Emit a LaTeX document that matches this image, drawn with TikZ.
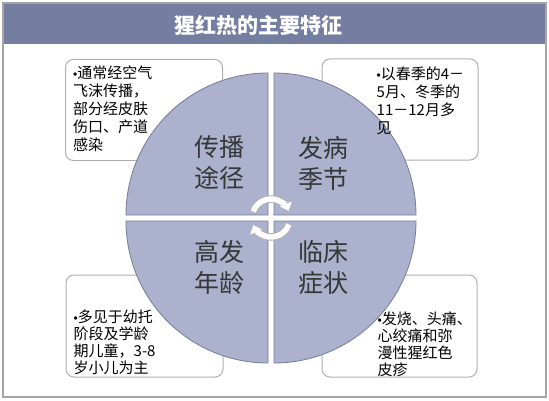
\documentclass[tikz,border=0pt]{standalone}
\usepackage{fontspec}
\setmainfont{Noto Sans CJK SC}
\newfontfamily\bulletfont{Liberation Sans}
\newcommand\bul{{\bulletfont\fontsize{12}{12}\selectfont •}}
\usetikzlibrary{arrows.meta,calc,positioning}

\definecolor{barblue}{RGB}{116,126,161}
\definecolor{quadfill}{RGB}{172,177,205}
\definecolor{quadline}{RGB}{118,123,150}
\definecolor{framegray}{RGB}{165,165,165}
\definecolor{boxgray}{RGB}{175,175,182}
\definecolor{labelgray}{RGB}{55,55,55}

\begin{document}
\begin{tikzpicture}[x=1pt, y=1pt,
  Box/.style={
    draw=boxgray, fill=white, rounded corners=8pt, line width=1pt,
    minimum width=157pt, minimum height=101pt, inner sep=0pt},
  Txt/.style={
    anchor=north west, align=left, inner sep=0pt,
    font=\fontsize{15}{18}\selectfont},
  TxtB/.style={Txt, font=\fontsize{15}{17}\selectfont},
  Quad/.style={fill=quadfill, draw=quadline, line width=0.8pt},
  Lbl/.style={
    align=center, text=labelgray, inner sep=0pt,
    font=\fontsize{25}{31}\selectfont},
  cycout/.style={
    draw=gray!60, line width=7.5pt,
    -{Triangle[length=9.5pt,width=16pt]}},
  cycin/.style={
    draw=white, line width=5.5pt,
    -{Triangle[length=7.5pt,width=12.5pt]}},
]
\useasboundingbox (0,0) rectangle (549,400);

%% FRAME AND TITLE
\fill[barblue] (3,356) rectangle (546,397);
\draw[framegray, line width=1.5pt] (3,3) rectangle (546,397);
\node[text=white, font=\fontsize{21}{24}\selectfont\bfseries] (title)
  at (258,375) {猩红热的主要特征};

%% BOXES
\node[Box] (tlbox) at (144,290) {};
\node[Box, minimum width=156pt] (trbox) at (400,290.5) {};
\node[Box, minimum height=102pt] (blbox) at (144.5,74) {};
\node[Box, minimum width=155pt, minimum height=102pt] (brbox) at (399.5,74) {};

%% QUADRANTS
\coordinate (C) at (271,182);
\foreach \a/\dx/\dy in {90/-3/3, 0/3/3, -90/3/-3, 180/-3/-3}
  \draw[Quad] ($(C)+(\dx,\dy)$) -- ++(\a:142)
    arc[start angle=\a, delta angle=90, radius=142] -- cycle;

\node[Lbl] (route)   at (219,237) {传播\\途径};
\node[Lbl] (season)  at (323,237) {发病\\季节};
\node[Lbl] (age)     at (219,133) {高发\\年龄};
\node[Lbl] (symptom) at (323,133) {临床\\症状};

%% BOX TEXTS
\node[Txt] (tltxt) at ($(tlbox.north west)+(8,-7)$)
  {\bul{}通常经空气\\飞沫传播，\\部分经皮肤\\伤口、产道\\感染};
\node[Txt] (trtxt) at ($(trbox.north west)+(55,-8)$)
  {\bul{}以春季的4－\\5月、冬季的\\11－12月多\\见};
\node[TxtB] (bltxt) at ($(blbox.north west)+(8,-35)$)
  {\bul{}多见于幼托\\阶段及学龄\\期儿童，3-8\\岁小儿为主};
\node[TxtB] (brtxt) at ($(brbox.north west)+(56,-37)$)
  {\bul{}发烧、头痛、\\心绞痛和弥\\漫性猩红色\\皮疹};

%% CYCLE ARROWS
\draw[cycout] (C) ++(160:19) arc[start angle=160, end angle=22, radius=19];
\draw[cycin]  (C) ++(160:19) arc[start angle=160, end angle=22, radius=19];
\draw[cycout] (C) ++(-20:19) arc[start angle=-20, end angle=-158, radius=19];
\draw[cycin]  (C) ++(-20:19) arc[start angle=-20, end angle=-158, radius=19];

\end{tikzpicture}
\end{document}
